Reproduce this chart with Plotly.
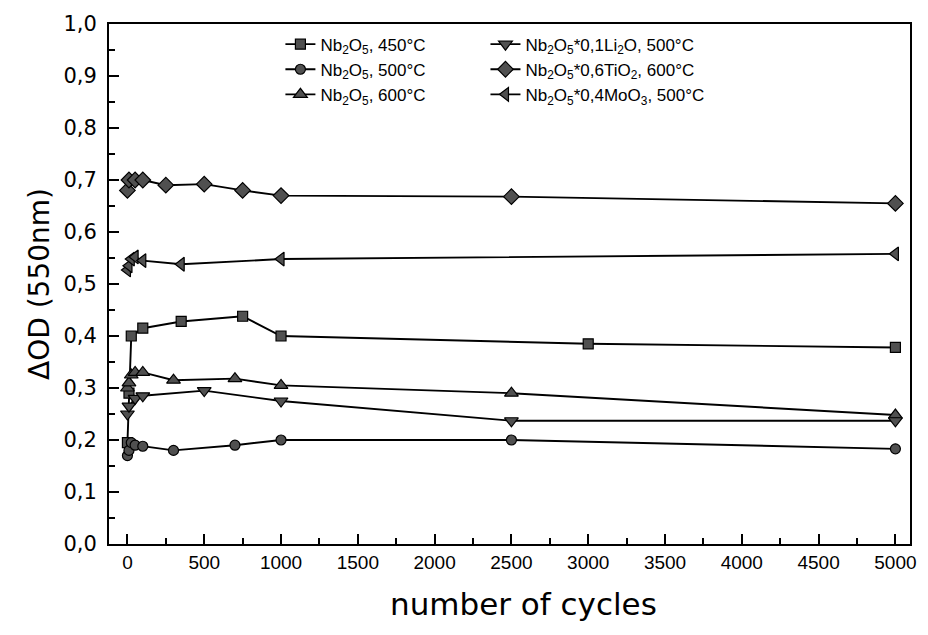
import plotly.graph_objects as go

# Optical density change at 550 nm versus number of coloration cycles
cycles_450 = [0, 10, 25, 100, 350, 750, 1000, 3000, 5000]
od_450 = [0.195, 0.29, 0.40, 0.415, 0.428, 0.438, 0.40, 0.385, 0.378]

cycles_500 = [0, 10, 25, 50, 100, 300, 700, 1000, 2500, 5000]
od_500 = [0.17, 0.18, 0.195, 0.19, 0.188, 0.18, 0.19, 0.20, 0.20, 0.183]

cycles_600 = [0, 10, 25, 50, 100, 300, 700, 1000, 2500, 5000]
od_600 = [0.30, 0.31, 0.325, 0.33, 0.33, 0.315, 0.318, 0.305, 0.29, 0.248]

cycles_li = [0, 10, 50, 100, 500, 1000, 2500, 5000]
od_li = [0.25, 0.265, 0.28, 0.285, 0.295, 0.275, 0.237, 0.237]

cycles_ti = [0, 10, 50, 100, 250, 500, 750, 1000, 2500, 5000]
od_ti = [0.68, 0.70, 0.70, 0.70, 0.69, 0.692, 0.68, 0.67, 0.668, 0.655]

cycles_mo = [0, 10, 25, 50, 100, 350, 1000, 5000]
od_mo = [0.527, 0.535, 0.548, 0.552, 0.545, 0.538, 0.548, 0.558]

series = [
    ("Nb<sub>2</sub>O<sub>5</sub>, 450°C", cycles_450, od_450, "square", 10, "legend"),
    ("Nb<sub>2</sub>O<sub>5</sub>, 500°C", cycles_500, od_500, "circle", 10, "legend"),
    ("Nb<sub>2</sub>O<sub>5</sub>, 600°C", cycles_600, od_600, "triangle-up", 12, "legend"),
    ("Nb<sub>2</sub>O<sub>5</sub>*0,1Li<sub>2</sub>O, 500°C", cycles_li, od_li, "triangle-down", 12, "legend2"),
    ("Nb<sub>2</sub>O<sub>5</sub>*0,6TiO<sub>2</sub>, 600°C", cycles_ti, od_ti, "diamond", 12, "legend2"),
    ("Nb<sub>2</sub>O<sub>5</sub>*0,4MoO<sub>3</sub>, 500°C", cycles_mo, od_mo, "triangle-left", 12, "legend2"),
]

SANS = "DejaVu Sans"
ARIAL = "Liberation Sans"

fig = go.Figure()
for name, xs, ys, symbol, size, leg in series:
    fig.add_trace(go.Scatter(
        x=xs, y=ys, name=name, mode="lines+markers",
        line=dict(color="black", width=1.9),
        marker=dict(symbol=symbol, size=size, color="#505050",
                    line=dict(color="black", width=1.2)),
        legend=leg,
    ))

legend_style = dict(
    font=dict(family=ARIAL, size=17, color="black"),
    bgcolor="rgba(0,0,0,0)", borderwidth=0,
    xanchor="left", yanchor="top", tracegroupgap=0,
)

fig.update_layout(
    width=928, height=635,
    margin=dict(l=109, r=12, t=22, b=91),
    paper_bgcolor="white", plot_bgcolor="white",
    separators=", ",
    font=dict(family=SANS, color="black"),
    showlegend=True,
    legend=dict(x=0.214, y=0.995, **legend_style),
    legend2=dict(x=0.470, y=0.995, **legend_style),
    xaxis=dict(
        range=[-120, 5095],
        tickmode="linear", tick0=0, dtick=500,
        ticks="inside", ticklen=10, tickwidth=1.5, tickcolor="black",
        minor=dict(tick0=0, dtick=250, ticks="inside", ticklen=6,
                   tickwidth=1.5, tickcolor="black", showgrid=False),
        showline=True, linewidth=2, linecolor="black", mirror=True,
        showgrid=False, zeroline=False,
        tickfont=dict(family=ARIAL, size=19, color="black"),
        ticklabelstandoff=0,
    ),
    yaxis=dict(
        range=[0, 1.0],
        tickmode="linear", tick0=0, dtick=0.1, tickformat=".1f",
        ticks="inside", ticklen=10, tickwidth=1.5, tickcolor="black",
        minor=dict(tick0=0, dtick=0.05, ticks="inside", ticklen=6,
                   tickwidth=1.5, tickcolor="black", showgrid=False),
        showline=True, linewidth=2, linecolor="black", mirror=True,
        showgrid=False, zeroline=False,
        tickfont=dict(family=SANS, size=21, color="black"),
        ticklabelstandoff=6,
        title=dict(text="ΔOD (550nm)", standoff=6,
                   font=dict(family=SANS, size=28, color="black")),
    ),
    annotations=[dict(
        text="number of cycles", xref="paper", yref="paper",
        x=0.518, y=-0.115, xanchor="center", yanchor="middle",
        showarrow=False, font=dict(family=SANS, size=31, color="black"),
    )],
)

fig.write_html("out.html")
